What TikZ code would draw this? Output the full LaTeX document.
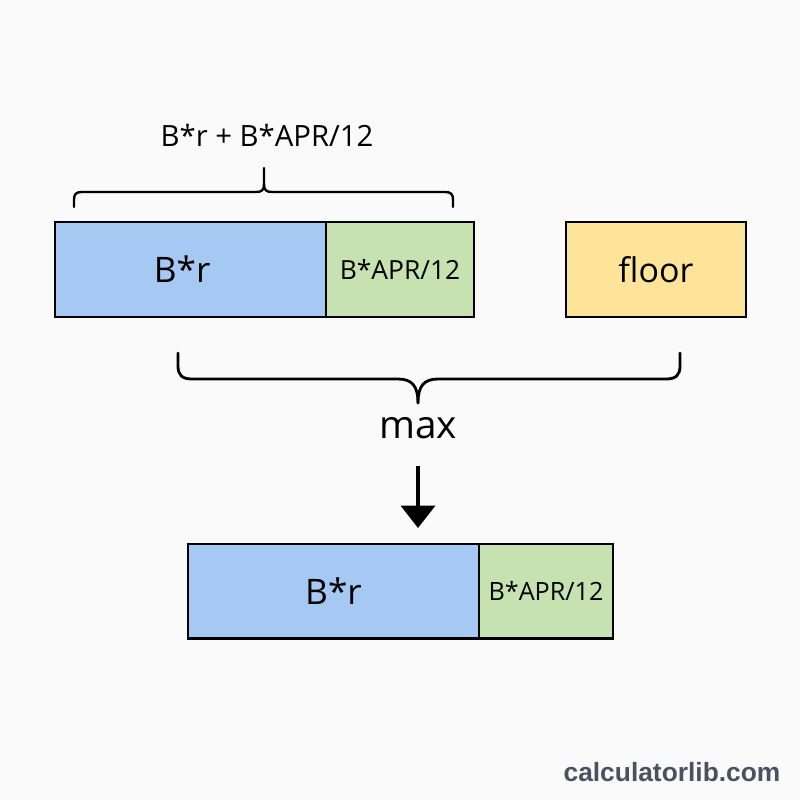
\documentclass[tikz,border=0pt]{standalone}
\usepackage{fontspec}
\setmainfont{Open Sans}
\newfontfamily\wmfont{Liberation Sans}
\usetikzlibrary{arrows.meta}
\definecolor{bgc}{RGB}{250,250,250}
\definecolor{blueb}{RGB}{166,201,244}
\definecolor{greenb}{RGB}{197,226,176}
\definecolor{yellowb}{RGB}{253,228,153}
\definecolor{wmc}{RGB}{75,81,96}
\tikzset{
  seg/.style={draw=black, line width=2pt, inner sep=0pt, minimum height=2.84cm},
  brace/.style={draw=black, line width=2.4pt, line cap=round, line join=round},
  arr/.style={draw=black, line width=2.6pt, -{Triangle[width=29pt,length=19pt]}},
}
\begin{document}
\begin{tikzpicture}[x=0.03cm,y=-0.03cm]
\fill[bgc] (0,0) rectangle (800,800);
\useasboundingbox (0,0) rectangle (800,800);
% top bar
\node[seg, fill=blueb, minimum width=8.13cm, font=\fontsize{30}{34}\selectfont] (tb) at (190.5,269.5) {\hspace*{-0.5cm}B*r};
\node[seg, fill=greenb, minimum width=4.44cm, font=\fontsize{22.5}{26}\selectfont] (tg) at (400,269.5) {B*APR/12};
\node[seg, fill=yellowb, minimum width=5.4cm, font=\fontsize{29}{33}\selectfont] (fl) at (656,269.5) {floor};
% bottom bar
\node[seg, fill=blueb, minimum width=8.73cm, font=\fontsize{30}{34}\selectfont] (bb) at (333.5,591) {B*r};
\node[seg, fill=greenb, minimum width=4.02cm, font=\fontsize{21.5}{25}\selectfont] (bg) at (546,591) {B*APR/12};
% labels
\node[font=\fontsize{25}{29}\selectfont] (sum) at (267,135) {B*r + B*APR/12};
\node[font=\fontsize{33}{37}\selectfont] (mx) at (418,428) {max};
\node[font=\wmfont\bfseries\fontsize{22.5}{26}\selectfont, text=wmc] (wm) at (672,772) {calculatorlib.com};
% top brace
\draw[brace, line width=2pt] (74,207) -- (74,200) .. controls (74,194) and (76,192) .. (82,192)
  -- (256,192) .. controls (262,192) and (264,190) .. (264,184) -- (264,168);
\draw[brace, line width=2pt] (264,184) .. controls (264,190) and (266,192) .. (272,192)
  -- (445,192) .. controls (451,192) and (453,194) .. (453,200) -- (453,207);
% bottom brace
\draw[brace] (178,353) -- (178,366) .. controls (178,375) and (182,379) .. (192,379)
  -- (398,379) .. controls (412,379) and (418,386) .. (418,403);
\draw[brace] (418,403) .. controls (418,386) and (424,379) .. (438,379)
  -- (666,379) .. controls (676,379) and (680,375) .. (680,366) -- (680,353);
% arrow
\coordinate (a1) at (418,466);
\coordinate (a2) at (418,528);
\draw[arr] (a1) -- (a2);
\end{tikzpicture}
\end{document}
